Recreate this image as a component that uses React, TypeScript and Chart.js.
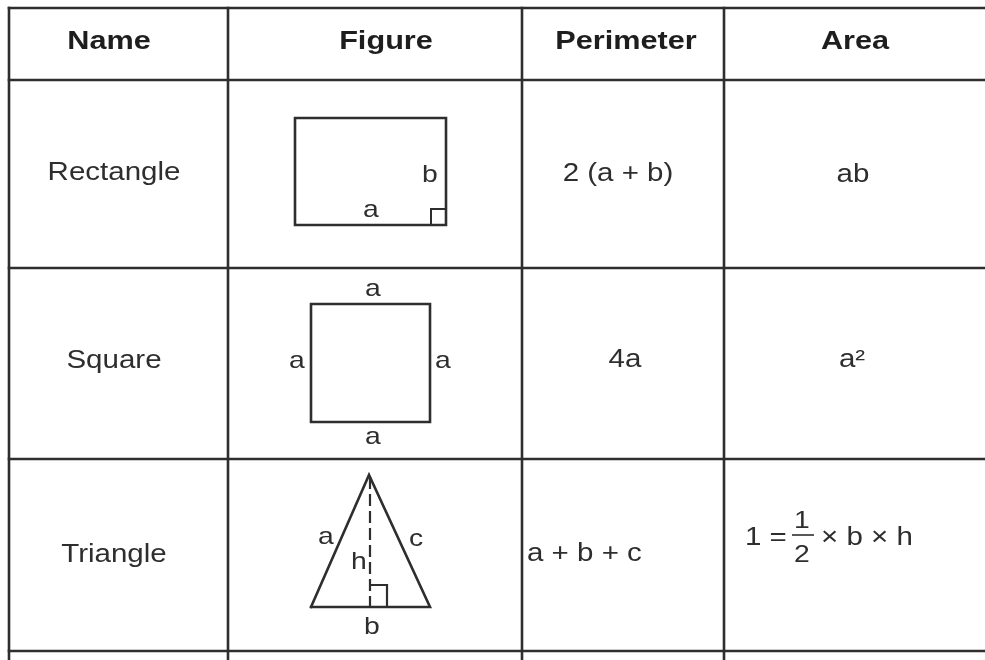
import React, { useEffect, useRef } from "react";
import { Chart, registerables } from "chart.js";

Chart.register(...registerables);

// ---- table content ----
const headers = ["Name", "Figure", "Perimeter", "Area"];
const shapeNames = ["Rectangle", "Square", "Triangle"];
const perimeters = ["2 (a + b)", "4a", "a + b + c"];
const areas = ["ab", "a²"];
const triangleAreaParts = ["1 =", "1", "2", "× b × h"];

// ---- table grid (data units = page pixels) ----
const rowLinesY = [8, 80, 268, 459, 651];
const colLinesX = [9, 228, 522, 724];
const tableRightX = 985;

// ---- figures ----
const rectX = [295, 446, 446, 295, 295];
const rectY = [118, 118, 225, 225, 118];
const rectMarkX = [431, 431, 446];
const rectMarkY = [225, 209, 209];
const squareX = [311, 430, 430, 311, 311];
const squareY = [304, 304, 422, 422, 304];
const triX = [311, 369, 430, 311];
const triY = [607, 475, 607, 607];
const altX = [370, 370];
const altY = [478, 607];
const triMarkX = [371, 387, 387];
const triMarkY = [585, 585, 607];

// figure labels
const figLabelText = ["b", "a", "a", "a", "a", "a", "a", "c", "h", "b"];
const figLabelX = [430, 371, 373, 297, 443, 373, 326, 416, 359, 372];
const figLabelY = [182, 217, 296, 368, 368, 444, 544, 546, 569, 634];

const INK = "#2e2e2e";
const SX = 1.18;

function pts(xs: number[], ys: number[]) {
  return xs.map((x, i) => ({ x, y: ys[i] }));
}

function lineDs(data: { x: number; y: number }[], width = 2.6, dash: number[] = []) {
  return {
    data,
    showLine: true,
    borderColor: INK,
    borderWidth: width,
    borderDash: dash,
    pointRadius: 0,
    fill: false,
    tension: 0,
    borderCapStyle: "square" as const,
    borderJoinStyle: "miter" as const,
  };
}

export default function App() {
  const ref = useRef<HTMLCanvasElement | null>(null);

  useEffect(() => {
    const canvas = ref.current;
    if (!canvas) return;

    const datasets: any[] = [];
    // horizontal grid lines
    rowLinesY.forEach((y) => {
      datasets.push(lineDs(pts([colLinesX[0], tableRightX], [y, y]), 2.6));
    });
    // vertical grid lines
    colLinesX.forEach((x) => {
      datasets.push(lineDs(pts([x, x], [rowLinesY[0], 660]), 2.6));
    });
    datasets.push(lineDs(pts(rectX, rectY), 2.6));
    datasets.push(lineDs(pts(rectMarkX, rectMarkY), 2));
    datasets.push(lineDs(pts(squareX, squareY), 2.6));
    datasets.push(lineDs(pts(triX, triY), 2.6));
    datasets.push(lineDs(pts(altX, altY), 2.2, [10, 7]));
    datasets.push(lineDs(pts(triMarkX, triMarkY), 2.2));

    const textPlugin = {
      id: "tableText",
      beforeDraw(chart: any) {
        const c = chart.ctx;
        c.save();
        c.fillStyle = "#ffffff";
        c.fillRect(0, 0, chart.width, chart.height);
        c.restore();
      },
      afterDatasetsDraw(chart: any) {
        const c = chart.ctx;
        const sx = chart.scales.x;
        const sy = chart.scales.y;
        const draw = (
          text: string,
          x: number,
          y: number,
          size: number,
          bold: boolean,
          align: CanvasTextAlign
        ) => {
          c.save();
          c.translate(sx.getPixelForValue(x), sy.getPixelForValue(y));
          c.scale(SX, 1);
          c.font = `${bold ? "bold " : ""}${size}px "Liberation Sans", Arial, sans-serif`;
          c.fillStyle = bold ? "#1e1e1e" : INK;
          c.textAlign = align;
          c.textBaseline = "alphabetic";
          c.fillText(text, 0, 0);
          c.restore();
        };
        // headers
        const headerX = [109, 386, 626, 855];
        headers.forEach((h, i) => draw(h, headerX[i], 49, 26, true, "center"));
        // body rows
        const rowBase = [180, 368, 562];
        shapeNames.forEach((n, i) => draw(n, 114, rowBase[i], 25, false, "center"));
        draw(perimeters[0], 618, 181, 25, false, "center");
        draw(perimeters[1], 625, 367, 25, false, "center");
        draw(perimeters[2], 527, 561, 25, false, "left");
        draw(areas[0], 853, 182, 25, false, "center");
        draw(areas[1], 852, 367, 25, false, "center");
        // triangle area formula
        draw(triangleAreaParts[0], 745, 545, 25, false, "left");
        draw(triangleAreaParts[1], 802, 528, 24, false, "center");
        draw(triangleAreaParts[2], 802, 562, 24, false, "center");
        draw(triangleAreaParts[3], 821, 545, 25, false, "left");
        c.save();
        c.strokeStyle = INK;
        c.lineWidth = 1.6;
        c.beginPath();
        c.moveTo(sx.getPixelForValue(792), sy.getPixelForValue(535));
        c.lineTo(sx.getPixelForValue(814), sy.getPixelForValue(535));
        c.stroke();
        c.restore();
        // figure labels
        figLabelText.forEach((t, i) => draw(t, figLabelX[i], figLabelY[i], 24, false, "center"));
      },
    };

    const chart = new Chart(canvas, {
      type: "scatter",
      data: { datasets },
      options: {
        animation: false,
        responsive: false,
        maintainAspectRatio: false,
        devicePixelRatio: 1,
        layout: { padding: 0 },
        plugins: { legend: { display: false }, tooltip: { enabled: false } },
        events: [],
        scales: {
          x: { type: "linear", min: 0, max: 985, display: false },
          y: { type: "linear", min: 0, max: 660, reverse: true, display: false },
        },
      },
      plugins: [textPlugin],
    });
    return () => chart.destroy();
  }, []);

  return (
    <div style={{ position: "absolute", left: 0, top: 0, width: 985, height: 660, background: "#fff" }}>
      <canvas ref={ref} width={985} height={660} style={{ display: "block" }} />
    </div>
  );
}
